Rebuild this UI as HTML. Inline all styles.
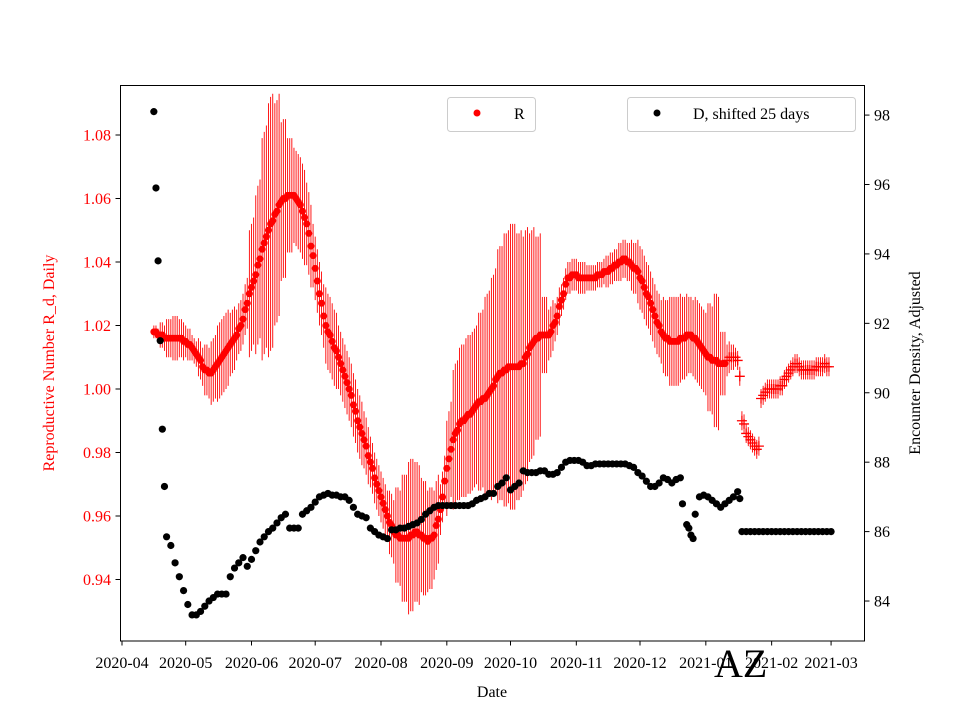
<!DOCTYPE html>
<html><head><meta charset="utf-8"><style>
html,body{margin:0;padding:0;background:#fff;}
svg{display:block;font-family:"Liberation Serif",serif;}
</style></head><body>
<svg id="chart" width="960" height="720" viewBox="0 0 960 720">
<rect x="0" y="0" width="960" height="720" fill="#fff"/>
<g id="errs"></g>
<g id="rdots"></g>
<g id="rplus"></g>
<g id="ddots"></g>
<rect x="120.5" y="85.5" width="744" height="555.5" fill="none" stroke="#000" stroke-width="1"/>
<g id="xaxis"></g>
<g id="yleft"></g>
<g id="yright"></g>
<text x="492" y="697" font-size="16" text-anchor="middle">Date</text>
<text transform="translate(54,363) rotate(-90)" font-size="16" fill="#ff0000" text-anchor="middle">Reproductive Number R_d, Daily</text>
<text transform="translate(920,363) rotate(-90)" font-size="16" text-anchor="middle">Encounter Density, Adjusted</text>
<g>
<rect x="447.5" y="97.5" width="88" height="34" rx="3" fill="#fff" fill-opacity="0.8" stroke="#ccc"/>
<circle cx="477" cy="113" r="3.5" fill="#ff0000"/>
<text x="514" y="119" font-size="16">R</text>
</g>
<g>
<rect x="627.5" y="97.5" width="228" height="34" rx="3" fill="#fff" fill-opacity="0.8" stroke="#ccc"/>
<circle cx="657" cy="113" r="3.5" fill="#000"/>
<text x="693" y="119" font-size="16">D, shifted 25 days</text>
</g>
<text x="714" y="677" font-size="40">AZ</text>
</svg>
<script>
const xTickDays=[0,30,61,91,122,153,183,214,244,275,306,334];
const xTickLabels=["2020-04","2020-05","2020-06","2020-07","2020-08","2020-09","2020-10","2020-11","2020-12","2021-01","2021-02","2021-03"];
const leftTicks=[0.94,0.96,0.98,1.00,1.02,1.04,1.06,1.08];
const rightTicks=[84,86,88,90,92,94,96,98];
const rFirstDay=15;
const rVals=[1.018,1.018,1.017,1.017,1.017,1.016,1.016,1.016,1.016,1.016,1.016,1.016,1.016,1.016,1.015,1.015,1.014,1.014,1.013,1.012,1.011,1.010,1.009,1.007,1.006,1.006,1.005,1.005,1.006,1.007,1.008,1.009,1.010,1.011,1.012,1.013,1.014,1.015,1.016,1.017,1.019,1.020,1.022,1.025,1.027,1.030,1.032,1.034,1.036,1.039,1.041,1.044,1.046,1.048,1.050,1.052,1.053,1.055,1.056,1.058,1.059,1.060,1.060,1.061,1.061,1.061,1.061,1.060,1.059,1.058,1.056,1.054,1.052,1.049,1.045,1.042,1.038,1.034,1.030,1.027,1.023,1.020,1.018,1.017,1.015,1.013,1.012,1.010,1.008,1.006,1.004,1.002,1.000,0.998,0.995,0.993,0.990,0.988,0.986,0.984,0.982,0.979,0.977,0.975,0.972,0.970,0.968,0.966,0.964,0.962,0.960,0.958,0.957,0.955,0.954,0.954,0.953,0.953,0.953,0.953,0.953,0.954,0.954,0.955,0.955,0.954,0.954,0.953,0.953,0.952,0.953,0.953,0.954,0.957,0.959,0.962,0.966,0.971,0.975,0.978,0.981,0.984,0.986,0.987,0.989,0.990,0.990,0.991,0.992,0.992,0.993,0.994,0.995,0.996,0.996,0.997,0.997,0.998,0.999,1.000,1.001,1.003,1.004,1.005,1.005,1.006,1.006,1.007,1.007,1.007,1.007,1.007,1.007,1.008,1.008,1.010,1.011,1.013,1.014,1.015,1.016,1.016,1.017,1.017,1.017,1.017,1.017,1.018,1.020,1.021,1.023,1.026,1.028,1.030,1.033,1.035,1.035,1.036,1.036,1.036,1.035,1.035,1.035,1.035,1.035,1.035,1.035,1.035,1.035,1.036,1.036,1.036,1.037,1.037,1.037,1.038,1.038,1.039,1.039,1.040,1.040,1.041,1.041,1.040,1.040,1.039,1.038,1.038,1.037,1.035,1.034,1.032,1.030,1.029,1.027,1.025,1.023,1.021,1.020,1.018,1.017,1.016,1.016,1.015,1.015,1.015,1.015,1.015,1.016,1.016,1.016,1.017,1.017,1.017,1.016,1.016,1.015,1.014,1.013,1.012,1.011,1.010,1.010,1.009,1.009,1.009,1.008,1.008,1.008,1.008];
// error half-widths, one value per 3-day block starting at rFirstDay
const rErr3=[0.002,0.004,0.006,0.007,0.006,0.005,0.004,0.006,0.008,0.010,0.012,0.012,0.010,0.008,0.008,0.020,0.025,0.035,0.040,0.035,0.025,0.018,0.015,0.015,0.013,0.010,0.010,0.012,0.012,0.010,0.010,0.010,0.010,0.009,0.008,0.008,0.008,0.010,0.015,0.020,0.024,0.022,0.018,0.016,0.014,0.008,0.015,0.022,0.024,0.025,0.025,0.028,0.032,0.035,0.040,0.043,0.045,0.042,0.040,0.036,0.032,0.012,0.008,0.006,0.005,0.005,0.005,0.005,0.004,0.004,0.004,0.005,0.005,0.006,0.006,0.008,0.010,0.010,0.010,0.010,0.012,0.014,0.014,0.013,0.012,0.013,0.013,0.017,0.021,0.010];
const pFirstDay=285;
const pVals=[1.009,1.010,1.010,1.010,1.010,1.009,1.004,0.990,0.989,0.986,0.985,0.984,0.983,0.982,0.981,0.982,0.997,0.998,0.999,1.000,1.000,1.000,1.000,1.000,1.000,1.001,1.001,1.003,1.004,1.005,1.006,1.007,1.008,1.008,1.007,1.006,1.006,1.006,1.006,1.006,1.006,1.006,1.007,1.007,1.007,1.007,1.008,1.007,1.007];
const pErr=[0.005,0.005,0.004,0.004,0.003,0.003,0.003,0.003,0.003,0.003,0.003,0.003,0.003,0.003,0.003,0.003,0.003,0.003,0.003,0.003,0.003,0.003,0.003,0.003,0.003,0.003,0.003,0.003,0.003,0.003,0.003,0.003,0.003,0.003,0.003,0.003,0.003,0.003,0.003,0.003,0.003,0.003,0.003,0.003,0.003,0.003,0.003,0.003,0.003];
const dDays=[15,16,17,18,19,20,21,23,25,27,29,31,33,35,37,39,41,43,45,47,49,51,53,55,57,59,61,63,65,67,69,71,73,75,77,79,81,83,85,87,89,91,93,95,97,99,101,103,105,107,109,111,113,115,117,119,121,123,125,127,129,131,133,135,137,139,141,143,145,147,149,151,153,155,157,159,161,163,165,167,169,171,173,175,177,179,181,183,185,187,189,191,193,195,197,199,201,203,205,207,209,211,213,215,217,219,221,223,225,227,229,231,233,235,237,239,241,243,245,247,249,251,253,255,257,259,261,263,264,266,267,268,269,270,272,274,276,278,280,282,284,286,288,290,291,292,294,296,298,300,302,304,306,308,310,312,314,316,318,320,322,324,326,328,330,332,334];
const dVals=[98.1,95.9,93.8,91.5,88.95,87.3,85.85,85.6,85.1,84.7,84.3,83.9,83.6,83.6,83.7,83.85,84.0,84.1,84.2,84.2,84.2,84.7,84.95,85.1,85.25,85.0,85.2,85.45,85.7,85.85,86.0,86.1,86.25,86.4,86.5,86.1,86.1,86.1,86.5,86.6,86.7,86.85,87.0,87.05,87.1,87.05,87.05,87.0,87.0,86.9,86.7,86.5,86.45,86.4,86.1,86.0,85.9,85.85,85.8,86.05,86.05,86.1,86.1,86.15,86.2,86.25,86.35,86.5,86.6,86.7,86.75,86.75,86.75,86.75,86.75,86.75,86.75,86.75,86.8,86.9,86.95,87.0,87.1,87.1,87.3,87.4,87.55,87.2,87.3,87.4,87.75,87.7,87.7,87.7,87.75,87.75,87.65,87.65,87.7,87.85,88.0,88.05,88.05,88.05,88.0,87.9,87.9,87.95,87.95,87.95,87.95,87.95,87.95,87.95,87.95,87.9,87.85,87.7,87.6,87.45,87.3,87.3,87.4,87.55,87.5,87.4,87.5,87.55,86.8,86.2,86.1,85.9,85.8,86.5,87.0,87.05,87.0,86.9,86.8,86.7,86.8,86.9,87.0,87.15,86.95,86.0,86.0,86.0,86.0,86.0,86.0,86.0,86.0,86.0,86.0,86.0,86.0,86.0,86.0,86.0,86.0,86.0,86.0,86.0,86.0,86.0,86.0];
const rDays=rVals.map((_,i)=>rFirstDay+i);
const pDays=pVals.map((_,i)=>pFirstDay+i);

const NS="http://www.w3.org/2000/svg";
const xs=d=>122+d*2.123;
const yL=v=>389-(v-1.0)*3175;
const yR=v=>531.6-(v-86)*34.71;
function mk(tag,attrs,parent){const e=document.createElementNS(NS,tag);for(const k in attrs)e.setAttribute(k,attrs[k]);parent.appendChild(e);return e;}

const gE=document.getElementById('errs');
rDays.forEach((d,i)=>{const e=rErr3[Math.min(rErr3.length-1,Math.floor(i/3))];
const l=mk('line',{x1:xs(d),x2:xs(d),y1:yL(rVals[i]-e),y2:yL(rVals[i]+e),stroke:'#ff0000','stroke-width':0.9},gE);

});
pDays.forEach((d,i)=>{const l=mk('line',{x1:xs(d),x2:xs(d),y1:yL(pVals[i]-pErr[i]),y2:yL(pVals[i]+pErr[i]),stroke:'#ff0000','stroke-width':0.9},gE);

});
const gD=document.getElementById('ddots');
dDays.forEach((d,i)=>{const c=mk('circle',{cx:xs(d),cy:yR(dVals[i]),r:3.6,fill:'#000'},gD);

});
const gR=document.getElementById('rdots');
rDays.forEach((d,i)=>{const c=mk('circle',{cx:xs(d),cy:yL(rVals[i]),r:3.5,fill:'#ff0000'},gR);

});
const gP=document.getElementById('rplus');
pDays.forEach((d,i)=>{const x=xs(d),y=yL(pVals[i]);const p=mk('path',{d:`M${x-5},${y}H${x+5}M${x},${y-5}V${y+5}`,stroke:'#ff0000','stroke-width':1.3,fill:'none'},gP);

});

const gX=document.getElementById('xaxis');
xTickDays.forEach((d,i)=>{const x=xs(d);mk('line',{x1:x,x2:x,y1:641,y2:645.5,stroke:'#000','stroke-width':1},gX);
const t=mk('text',{x:x,y:668,'font-size':16,'text-anchor':'middle'},gX);t.textContent=xTickLabels[i];

});
const gL=document.getElementById('yleft');
leftTicks.forEach(v=>{const y=yL(v);mk('line',{x1:115.5,x2:120.5,y1:y,y2:y,stroke:'#000','stroke-width':1},gL);
const t=mk('text',{x:111,y:y+5.5,'font-size':16,'text-anchor':'end',fill:'#ff0000'},gL);t.textContent=v.toFixed(2);

});
const gRt=document.getElementById('yright');
rightTicks.forEach(v=>{const y=yR(v);mk('line',{x1:864.5,x2:869.5,y1:y,y2:y,stroke:'#000','stroke-width':1},gRt);
const t=mk('text',{x:874,y:y+5.5,'font-size':16,'text-anchor':'start'},gRt);t.textContent=String(v);

});
</script>
</body></html>
